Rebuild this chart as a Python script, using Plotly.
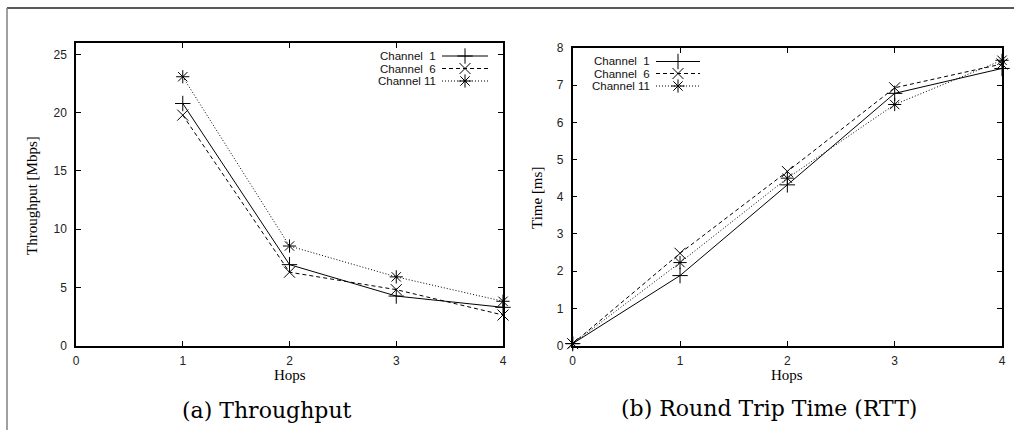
import plotly.graph_objects as go

W, H = 1014, 430

# ---- data ----
hops_tp = [1, 2, 3, 4]
tp_ch1 = [20.8, 6.95, 4.25, 3.28]
tp_ch6 = [19.8, 6.3, 4.8, 2.62]
tp_ch11 = [23.1, 8.55, 5.9, 3.8]

hops_rtt = [0, 1, 2, 3, 4]
rtt_ch1 = [0.05, 1.88, 4.32, 6.78, 7.45]
rtt_ch6 = [0.05, 2.48, 4.68, 6.93, 7.57]
rtt_ch11 = [0.05, 2.23, 4.50, 6.48, 7.67]

series_names = ["Channel\u00a0\u00a01", "Channel\u00a0\u00a06", "Channel\u00a011"]
x_ticks = [0, 1, 2, 3, 4]
tp_ticks = [0, 5, 10, 15, 20, 25]
rtt_ticks = [0, 1, 2, 3, 4, 5, 6, 7, 8]

styles = [
    dict(dash="solid", symbol="cross-thin-open"),
    dict(dash="4px,3px", symbol="x-thin-open"),
    dict(dash="1px,2px", symbol="asterisk-open"),
]

def px(x):
    return x / W

def py(y):
    return 1 - y / H

fig = go.Figure()

for ys, st in zip([tp_ch1, tp_ch6, tp_ch11], styles):
    fig.add_trace(go.Scatter(
        x=hops_tp, y=ys, mode="lines+markers", xaxis="x", yaxis="y",
        line=dict(color="black", width=1, dash=st["dash"]),
        marker=dict(symbol=st["symbol"], size=11, color="black",
                    line=dict(color="black", width=1)),
        showlegend=False, cliponaxis=False))

for ys, st in zip([rtt_ch1, rtt_ch6, rtt_ch11], styles):
    fig.add_trace(go.Scatter(
        x=hops_rtt, y=ys, mode="lines+markers", xaxis="x2", yaxis="y2",
        line=dict(color="black", width=1, dash=st["dash"]),
        marker=dict(symbol=st["symbol"], size=11, color="black",
                    line=dict(color="black", width=1)),
        showlegend=False, cliponaxis=False))

# ---- manual legends (pixel overlay axis) ----
legend_specs = [
    dict(text_right=438, x0=442, x1=488, xm=465, rows=[56, 68.5, 81]),
    dict(text_right=652, x0=656, x1=700, xm=678, rows=[61.5, 73.5, 86]),
]
annotations = []
for spec in legend_specs:
    for name, st, ry in zip(series_names, styles, spec["rows"]):
        fig.add_trace(go.Scatter(
            x=[spec["x0"], spec["x1"]], y=[ry, ry], mode="lines",
            xaxis="x3", yaxis="y3",
            line=dict(color="black", width=1, dash=st["dash"]),
            showlegend=False, hoverinfo="skip"))
        fig.add_trace(go.Scatter(
            x=[spec["xm"]], y=[ry], mode="markers", xaxis="x3", yaxis="y3",
            marker=dict(symbol=st["symbol"], size=11, color="black",
                        line=dict(color="black", width=1)),
            showlegend=False, hoverinfo="skip"))
        annotations.append(dict(
            x=px(spec["text_right"]), y=py(ry), xref="paper", yref="paper",
            text=name, showarrow=False, xanchor="right", yanchor="middle",
            font=dict(family="Liberation Sans", size=11.5, color="#111")))

serif = "Liberation Serif"
cap_font = dict(family="DejaVu Serif", size=22, color="black")
title_font = dict(family=serif, size=15, color="black")

def centered(x, y, text, font, angle=0):
    return dict(x=px(x), y=py(y), text=text, showarrow=False, textangle=angle,
                xref="paper", yref="paper", xanchor="center", yanchor="middle",
                font=font)

annotations += [
    centered(289.5, 375, "Hops", title_font),
    centered(787, 375, "Hops", title_font),
    centered(32, 196, "Throughput [Mbps]", title_font, -90),
    centered(537, 198, "Time [ms]", title_font, -90),
    centered(267, 410, "(a) Throughput", cap_font),
    centered(768.5, 408, "(b) Round Trip Time (RTT)", cap_font),
]

tick_font = dict(family="Liberation Sans", size=12, color="#222")
axis_common = dict(showline=True, linecolor="black", linewidth=1.5, mirror="ticks",
                   ticks="inside", ticklen=5, tickwidth=1, tickcolor="black",
                   showgrid=False, zeroline=False, tickfont=tick_font)

shapes = [
    dict(type="line", xref="paper", yref="paper", x0=px(7), x1=1, y0=py(8), y1=py(8),
         line=dict(color="#222", width=1.5)),
    dict(type="line", xref="paper", yref="paper", x0=px(7), x1=px(7), y0=py(8), y1=0,
         line=dict(color="#808080", width=1.5)),
]

fig.update_layout(
    width=W, height=H, margin=dict(l=0, r=0, t=0, b=0, autoexpand=False),
    paper_bgcolor="white", plot_bgcolor="rgba(0,0,0,0)",
    showlegend=False,
    xaxis=dict(domain=[px(76), px(503)], range=[0, 4], tickvals=x_ticks,
               anchor="y", ticklabelstandoff=3, **axis_common),
    yaxis=dict(domain=[py(345.5), py(43)], range=[0, 26], tickvals=tp_ticks,
               anchor="x", ticklabelstandoff=5, **axis_common),
    xaxis2=dict(domain=[px(572.7), px(1002)], range=[0, 4], tickvals=x_ticks,
                anchor="y2", ticklabelstandoff=3, **axis_common),
    yaxis2=dict(domain=[py(345.5), py(48)], range=[0, 8], tickvals=rtt_ticks,
                anchor="x2", ticklabelstandoff=5, **axis_common),
    xaxis3=dict(domain=[0, 1], range=[0, W], visible=False, anchor="y3"),
    yaxis3=dict(domain=[0, 1], range=[H, 0], visible=False, anchor="x3"),
    annotations=annotations,
    shapes=shapes,
)

fig.write_html(
    "out.html",
    config={"displayModeBar": False},
    post_script="document.body.style.margin='0';document.body.style.overflow='hidden';",
)
